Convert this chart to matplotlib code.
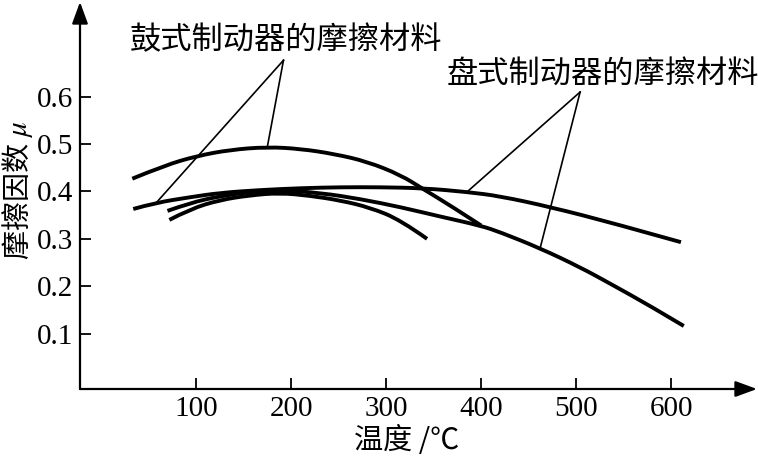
import matplotlib
matplotlib.use('Agg')
import matplotlib.pyplot as plt
from matplotlib.path import Path
from matplotlib.patches import PathPatch

plt.rcParams['font.family'] = ['Noto Sans CJK SC', 'DejaVu Sans']
plt.rcParams['mathtext.fontset'] = 'stix'

# ---- data ----
x_ticks = [100, 200, 300, 400, 500, 600]
y_ticks = [0.1, 0.2, 0.3, 0.4, 0.5, 0.6]
x_tick_labels = ['100', '200', '300', '400', '500', '600']
y_tick_labels = ['0.1', '0.2', '0.3', '0.4', '0.5', '0.6']

# drum-brake material, upper curve
drum_a_t = [33, 67, 101, 136, 175, 210, 246, 280, 315, 339, 367, 400]
drum_a_mu = [0.427, 0.455, 0.475, 0.488, 0.494, 0.490, 0.479, 0.463, 0.435, 0.405, 0.371, 0.328]

# long upper curve ending near 610
disc_a_t = [34, 57, 94, 125, 167, 210, 252, 294, 339, 385, 420, 473, 539, 610]
disc_a_mu = [0.363, 0.376, 0.388, 0.397, 0.403, 0.407, 0.409, 0.409, 0.407, 0.399, 0.390, 0.367, 0.333, 0.293]

# long lower curve ending near 613
disc_b_t = [70, 94, 125, 157, 188, 231, 273, 315, 357, 399, 420, 462, 504, 536, 578, 613]
disc_b_mu = [0.359, 0.376, 0.390, 0.399, 0.403, 0.397, 0.384, 0.367, 0.347, 0.328, 0.314, 0.280, 0.240, 0.205, 0.158, 0.116]

# short curve ending near 343
drum_b_t = [72, 94, 125, 157, 188, 220, 252, 283, 315, 343]
drum_b_mu = [0.340, 0.363, 0.382, 0.392, 0.397, 0.391, 0.381, 0.366, 0.340, 0.300]

drum_label = '鼓式制动器的摩擦材料'
disc_label = '盘式制动器的摩擦材料'
drum_apex = (192, 0.677)
drum_targets = [(59, 0.378), (175, 0.494)]
disc_apex = (504, 0.610)
disc_targets = [(385, 0.399), (462, 0.281)]

x_min, x_max = -22, 690
y_min, y_max = -0.017, 0.80


def smooth_path(xs, ys):
    """Quadratic Bezier through midpoints, using the data points as controls."""
    pts = list(zip(xs, ys))
    verts = [pts[0]]
    codes = [Path.MOVETO]
    for i in range(1, len(pts) - 1):
        mid = ((pts[i][0] + pts[i + 1][0]) / 2, (pts[i][1] + pts[i + 1][1]) / 2)
        if i == len(pts) - 2:
            mid = pts[-1]
        verts += [pts[i], mid]
        codes += [Path.CURVE3, Path.CURVE3]
    return Path(verts, codes)


# ---- figure ----
fig = plt.figure(figsize=(7.58, 4.59), dpi=100)
ax = fig.add_axes([80 / 758, 70 / 459, 677 / 758, 387 / 459])
ax.set_xlim(x_min, x_max)
ax.set_ylim(y_min, y_max)

for s in ax.spines.values():
    s.set_visible(False)

# axes with arrows
for end in [(1, 0), (0, 1)]:
    ax.annotate('', xy=end, xytext=(0, 0), xycoords='axes fraction',
                arrowprops=dict(arrowstyle='-|>,head_length=0.6,head_width=0.22',
                                lw=1.6, color='black',
                                mutation_scale=22, shrinkA=0, shrinkB=0),
                annotation_clip=False)

lw = 2.8
for t, mu in [(drum_a_t, drum_a_mu), (disc_a_t, disc_a_mu),
              (disc_b_t, disc_b_mu), (drum_b_t, drum_b_mu)]:
    patch = PathPatch(smooth_path(t, mu), fill=False, edgecolor='black',
                      lw=lw, capstyle='butt', joinstyle='round')
    ax.add_patch(patch)

for tx, ty in drum_targets:
    ax.plot([drum_apex[0], tx], [drum_apex[1], ty], color='black', lw=1.2)
for tx, ty in disc_targets:
    ax.plot([disc_apex[0], tx], [disc_apex[1], ty], color='black', lw=1.2)

ax.text(30, 0.719, drum_label, fontsize=22.5, ha='left', va='center')
ax.text(364, 0.646, disc_label, fontsize=22.5, ha='left', va='center')

ax.set_xticks(x_ticks)
ax.set_xticklabels(x_tick_labels)
ax.set_yticks(y_ticks)
ax.set_yticklabels(y_tick_labels)
ax.tick_params(direction='in', length=8, width=1.3, pad=5)
for lab in ax.get_xticklabels() + ax.get_yticklabels():
    lab.set_fontfamily('Liberation Serif')
    lab.set_fontsize(21)

ax.set_xlabel('温度 /℃', fontsize=21)
ax.xaxis.set_label_coords(0.483, -0.095)
ax.set_ylabel(r'摩擦因数 $\mu$', fontsize=21)
ax.yaxis.set_label_coords(-0.066, 0.514)

fig.savefig('out.png', dpi=100)
